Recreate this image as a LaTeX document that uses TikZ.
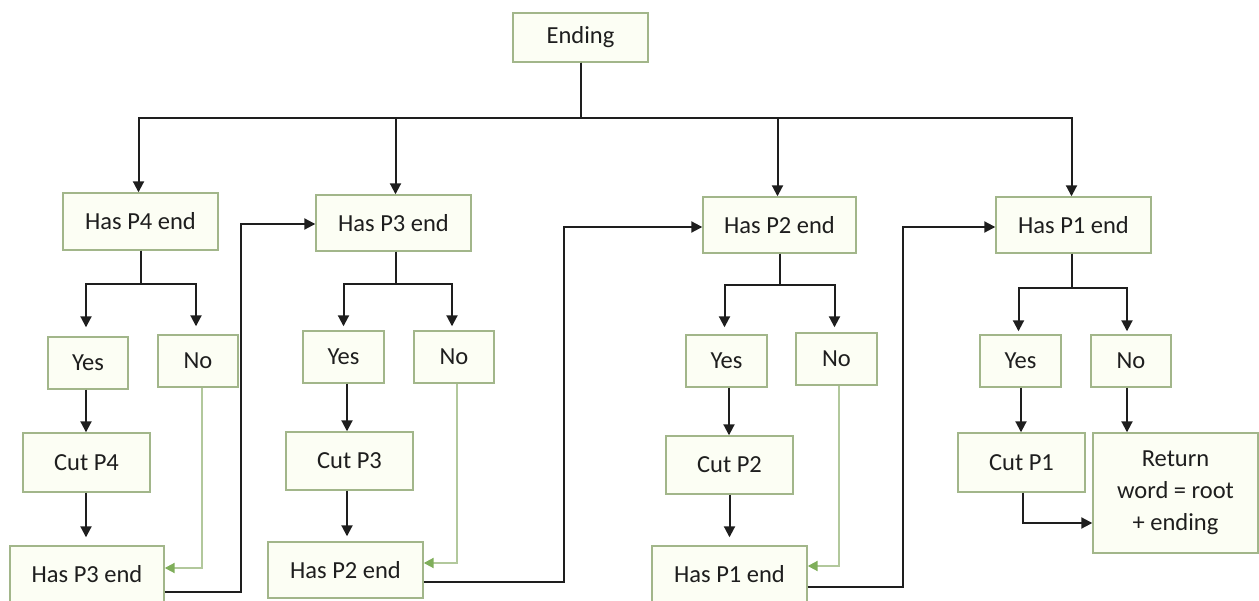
\documentclass[tikz,border=0pt]{standalone}
\usepackage{fontspec}
\setmainfont{Carlito}
\usetikzlibrary{arrows.meta,calc}
\definecolor{boxline}{HTML}{A2B68A}
\definecolor{boxfill}{HTML}{FCFEF4}
\definecolor{noline}{HTML}{B2C89C}
\definecolor{notip}{HTML}{7FAE5A}
\definecolor{ink}{HTML}{1E1E1E}
\begin{document}
\begin{tikzpicture}[x=1pt,y=-1pt,
  box/.style={draw=boxline,fill=boxfill,line width=1.4pt,inner sep=0pt,
    text=ink,font=\fontsize{24.5}{32}\selectfont,align=center},
  arr/.style={draw=ink,line width=2pt,-{Triangle[length=11pt,width=11pt]}},
  noarr/.style={draw=noline,line width=2pt,-{Triangle[length=10pt,width=10pt,color=notip]}},
  gap/.style={shorten >=#1}]
\useasboundingbox (0,0) rectangle (1259,601);

% root
\node[box,minimum width=135pt,minimum height=49pt] (end) at (580.5,37.5) {Ending};

% P4 column
\node[box,minimum width=155pt,minimum height=57pt] (h4) at (140.5,221.5) {Has P4 end};
\node[box,minimum width=80pt,minimum height=52pt] (y4) at (88,363) {Yes};
\node[box,minimum width=80pt,minimum height=52pt] (n4) at (198,361) {No};
\node[box,minimum width=127pt,minimum height=59pt] (c4) at (86.5,462.5) {Cut P4};
\node[box,minimum width=154pt,minimum height=56pt] (b3) at (87,574) {Has P3 end};

% P3 column
\node[box,minimum width=155pt,minimum height=56pt] (h3) at (393.5,223) {Has P3 end};
\node[box,minimum width=81pt,minimum height=52pt] (y3) at (343.5,357) {Yes};
\node[box,minimum width=80pt,minimum height=52pt] (n3) at (454,357) {No};
\node[box,minimum width=127pt,minimum height=58pt] (c3) at (349.5,461) {Cut P3};
\node[box,minimum width=155pt,minimum height=56pt] (b2) at (345.5,570) {Has P2 end};

% P2 column
\node[box,minimum width=153pt,minimum height=56pt] (h2) at (779.5,225) {Has P2 end};
\node[box,minimum width=81pt,minimum height=52pt] (y2) at (726.5,361) {Yes};
\node[box,minimum width=81pt,minimum height=52pt] (n2) at (836.5,359) {No};
\node[box,minimum width=127pt,minimum height=58pt] (c2) at (729.5,465) {Cut P2};
\node[box,minimum width=155pt,minimum height=56pt] (b1) at (729.5,574) {Has P1 end};

% P1 column
\node[box,minimum width=155pt,minimum height=56pt] (h1) at (1073.5,225) {Has P1 end};
\node[box,minimum width=81pt,minimum height=52pt] (y1) at (1020.5,361) {Yes};
\node[box,minimum width=80pt,minimum height=52pt] (n1) at (1131,361) {No};
\node[box,minimum width=127pt,minimum height=59pt] (c1) at (1021.5,462.5) {Cut P1};
\node[box,minimum width=165pt,minimum height=120pt] (ret) at (1175.5,493) {Return\\word = root\\+ ending};

% distribution bus from the root
\coordinate (bus) at (580.5,118);
\draw[arr] (end.south) -- (bus) -| ([xshift=-2pt]h4.north);
\draw[arr] (end.south) -- (bus) -| ([xshift=2pt]h3.north);
\draw[arr] (end.south) -- (bus) -| ([xshift=-2pt]h2.north);
\draw[arr] (end.south) -- (bus) -| ([xshift=-2pt]h1.north);

% yes / no branches
\draw[arr,gap=9pt] (h4.south) -- ++(0,33) -| ([xshift=-2pt]y4.north);
\draw[arr,gap=8pt] (h4.south) -- ++(0,33) -| ([xshift=-2pt]n4.north);
\draw[arr,gap=4pt] ([xshift=2pt]h3.south) -- ++(0,32) -| (y3.north);
\draw[arr,gap=4pt] ([xshift=2pt]h3.south) -- ++(0,32) -| ([xshift=-2pt]n3.north);
\draw[arr,gap=7pt] (h2.south) -- ++(0,31) -| ([xshift=-2pt]y2.north);
\draw[arr,gap=5pt] (h2.south) -- ++(0,31) -| ([xshift=-2pt]n2.north);
\draw[arr,gap=3pt] ([xshift=-2pt]h1.south) -- ++(0,34) -| ([xshift=-2pt]y1.north);
\draw[arr,gap=3pt] ([xshift=-2pt]h1.south) -- ++(0,34) -| ([xshift=-4pt]n1.north);

% yes: cut the ending, then test the next one
\draw[arr] ([xshift=-2pt]y4.south) -- ([xshift=-2pt]y4.south |- c4.north);
\draw[arr,gap=8pt] ([xshift=-0.5pt]c4.south) -- ([xshift=-0.5pt]c4.south |- b3.north);
\draw[arr] ([xshift=3.5pt]y3.south) -- ([xshift=3.5pt]y3.south |- c3.north);
\draw[arr,gap=5pt] ([xshift=-2.5pt]c3.south) -- ([xshift=-2.5pt]c3.south |- b2.north);
\draw[arr] ([xshift=2.5pt]y2.south) -- ([xshift=2.5pt]y2.south |- c2.north);
\draw[arr,gap=8pt] (c2.south) -- (c2.south |- b1.north);
\draw[arr] ([xshift=0.5pt]y1.south) -- ([xshift=0.5pt]y1.south |- c1.north);
\draw[arr] ([xshift=-4pt]n1.south) -- ([xshift=-4pt]n1.south |- ret.north);
\draw[arr] ([xshift=1.5pt]c1.south) |- ([yshift=-30pt]ret.west);

% no: skip straight to the next test
\draw[noarr] ([xshift=4pt]n4.south) |- ([yshift=6pt]b3.east);
\draw[noarr] ([xshift=3pt]n3.south) |- ([yshift=7pt]b2.east);
\draw[noarr] ([xshift=2.5pt]n2.south) |- ([yshift=8pt]b1.east);

% hand over to the next ending class
\draw[arr] ([yshift=-18pt]b3.east) -- ++(76,0) |- ([yshift=-1pt]h3.west);
\draw[arr] ([yshift=-12pt]b2.east) -- ++(140,0) |- ([yshift=-2pt]h2.west);
\draw[arr] ([yshift=-13pt]b1.east) -- ++(95,0) |- ([yshift=-2pt]h1.west);
\end{tikzpicture}
\end{document}
